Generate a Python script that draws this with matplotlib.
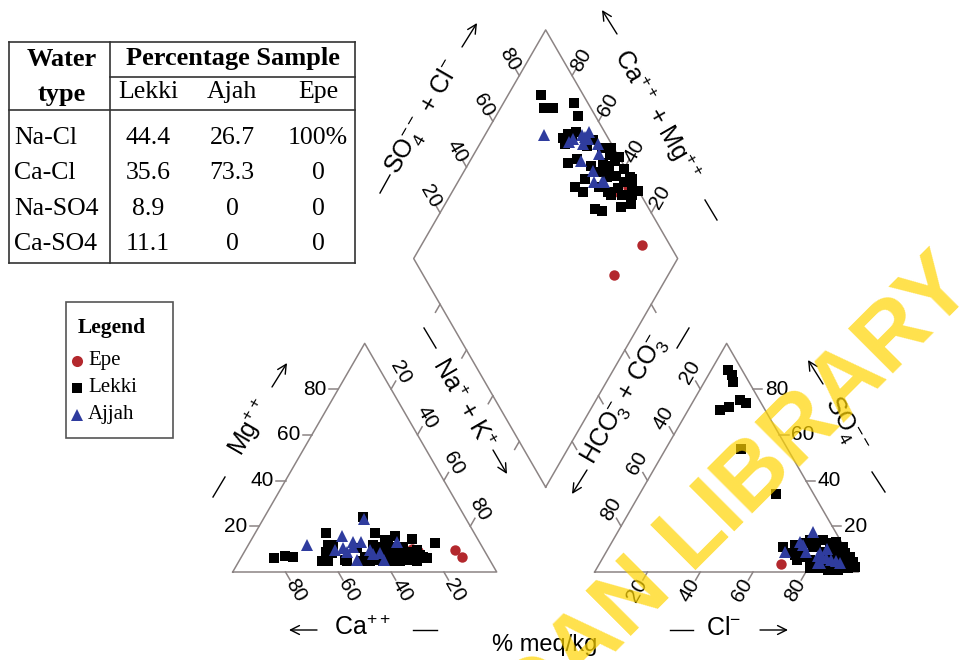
import matplotlib

matplotlib.use("Agg")
import matplotlib.pyplot as plt
import numpy as np
from matplotlib.lines import Line2D
from matplotlib.patches import Rectangle

plt.rcParams["font.family"] = ["Liberation Sans", "DejaVu Sans"]
plt.rcParams["mathtext.fontset"] = "custom"
plt.rcParams["mathtext.rm"] = "Liberation Sans"
plt.rcParams["mathtext.it"] = "Liberation Sans:italic"
plt.rcParams["mathtext.bf"] = "Liberation Sans:bold"

# ---- sample data (% meq) ----
lekki_ca = [81.4, 76.7, 73.8, 56.2, 57.9, 60.1, 63.9, 56.0, 58.4, 61.4, 38.4, 54.8, 54.4, 47.8, 37.6,
            46.5, 48.2, 40.7, 45.6, 41.4, 35.3, 38.0, 42.8, 35.0, 30.7, 40.5, 38.3, 33.7, 35.0, 33.8,
            36.7, 29.8, 33.2, 25.0, 34.4, 29.1, 31.5, 28.5, 25.5, 28.6, 25.4, 27.9, 24.4, 17.0, 23.5]
lekki_mg = [6.0, 7.0, 6.4, 16.9, 11.8, 8.8, 4.8, 11.8, 8.2, 4.8, 24.2, 5.3, 4.8, 10.4, 16.9,
            6.7, 4.8, 12.0, 4.8, 8.2, 14.0, 11.1, 5.3, 12.0, 15.7, 4.8, 6.7, 11.1, 9.6, 8.2,
            4.8, 11.1, 6.7, 14.3, 4.8, 8.9, 5.3, 7.4, 9.6, 6.0, 7.4, 4.8, 6.7, 12.8, 6.0]
lekki_cl = [78.8, 75.5, 82.0, 8.8, 12.0, 79.5, 51.8, 28.4, 73.9, 86.0, 74.0, 73.1, 77.6, 85.6, 65.8,
            14.9, 82.7, 80.6, 70.4, 90.6, 90.4, 87.9, 93.4, 17.3, 10.8, 84.4, 88.0, 82.0, 97.5, 72.0,
            6.4, 77.2, 96.3, 69.9, 74.4, 91.8, 90.5, 88.5, 87.6, 95.8, 84.4, 85.0, 95.2, 93.2, 20.6]
lekki_so4 = [5.3, 6.7, 3.8, 86.1, 70.9, 14.0, 34.1, 53.8, 12.6, 3.0, 5.3, 10.4, 12.6, 8.2, 11.1,
             72.3, 12.6, 1.6, 8.2, 8.2, 2.3, 0.9, 3.8, 75.2, 83.2, 1.6, 9.6, 8.9, 2.3, 7.5,
             88.3, 11.1, 3.1, 11.8, 14.0, 0.9, 6.0, 11.1, 5.3, 4.2, 5.3, 13.2, 1.6, 6.7, 73.8]

ajah_ca = [65.8, 50.9, 56.5, 52.9, 38.8, 52.4, 47.7, 49.0, 45.0, 50.1, 43.2, 43.0, 40.0, 40.1, 31.3]
ajah_mg = [11.8, 15.7, 9.5, 10.4, 23.0, 8.9, 13.2, 11.0, 13.0, 5.3, 9.6, 8.0, 8.4, 5.3, 13.2]
ajah_cl = [67.5, 71.0, 82.5, 84.8, 73.9, 89.0, 81.1, 87.1, 75.7, 90.9, 83.0, 83.3, 73.0, 81.0, 83.0]
ajah_so4 = [8.9, 13.3, 4.0, 6.0, 17.6, 5.0, 8.2, 5.2, 8.9, 3.8, 10.0, 3.8, 12.0, 7.0, 6.0]

epe_ca = [27.0, 25.5, 11.0, 10.0]
epe_mg = [10.0, 9.0, 9.5, 6.5]
epe_cl = [88.0, 90.9, 69.0, 86.0]
epe_so4 = [4.0, 6.0, 3.5, 3.5]

# ---- table ----
water_types = ["Na-Cl", "Ca-Cl", "Na-SO4", "Ca-SO4"]
table_sites = ["Lekki", "Ajah", "Epe"]
lekki_pct = ["44.4", "35.6", "8.9", "11.1"]
ajah_pct = ["26.7", "73.3", "0", "0"]
epe_pct = ["100%", "0", "0", "0"]

axis_ticks = [20, 40, 60, 80]

W, H = 976, 660
X0, Y0, S = 232.7, 572.0, 264.0
GAP = 0.371
h = np.sqrt(3) / 2
FRAME = "#8c8484"
RED, BLACK, BLUE = "#b3282d", "black", "#2f3c9e"


def px(x, y):
    return (x - X0) / S, (Y0 - y) / S


def fxy(x, y):
    return x / W, 1 - y / H


def cation_xy(ca, mg):
    ca, mg = np.asarray(ca) / 100, np.asarray(mg) / 100
    na = 1 - ca - mg
    return na + 0.5 * mg, h * mg


def anion_xy(cl, so4):
    cl, so4 = np.asarray(cl) / 100, np.asarray(so4) / 100
    return 1 + GAP + cl + 0.5 * so4, h * so4


BX, BY = 1 + GAP / 2, GAP * h


def diamond_xy(ca, mg, cl, so4):
    a = (np.asarray(cl) + np.asarray(so4)) / 100
    c = (np.asarray(ca) + np.asarray(mg)) / 100
    return BX + 0.5 * (a - c), BY + h * (a + c)


fig = plt.figure(figsize=(W / 100, H / 100), dpi=100)
ax = fig.add_axes([0, 0, 1, 1])
ax.set_xlim(-X0 / S, (W - X0) / S)
ax.set_ylim(-(H - Y0) / S, Y0 / S)
ax.axis("off")

# frames
frames = [
    [(0, 0), (1, 0), (0.5, h), (0, 0)],
    [(1 + GAP, 0), (2 + GAP, 0), (1.5 + GAP, h), (1 + GAP, 0)],
    [(BX, BY), (BX + 0.5, BY + h), (BX, BY + 2 * h), (BX - 0.5, BY + h), (BX, BY)],
]
for fr in frames:
    xs, ys = zip(*fr)
    ax.plot(xs, ys, color=FRAME, lw=1.1, zorder=1)

TL = 0.035
num_kw = dict(fontsize=15, ha="center", va="center", rotation_mode="anchor")


def tick(p, d, label=None, off=0.07, rot=0, **kw):
    d = np.asarray(d, float)
    d = d / np.hypot(*d)
    ax.plot([p[0], p[0] + TL * d[0]], [p[1], p[1] + TL * d[1]], color=FRAME, lw=1.1, zorder=1)
    if label is not None:
        opts = dict(num_kw)
        opts.update(kw)
        ax.text(p[0] + off * d[0], p[1] + off * d[1], label, rotation=rot, **opts)


for t in axis_ticks:
    v = t / 100
    lab = str(t)
    # cation
    tick((v / 2, v * h), (-1, 0), lab, off=0.045, ha="right")
    tick((0.5 + 0.5 * v, h * (1 - v)), (0.5, h), lab, off=0.075, rot=-60)
    tick((1 - v, 0), (0.5, -h), lab, off=0.08, rot=-60)
    # anion
    tick((2 + GAP - 0.5 * v, h * v), (1, 0), lab, off=0.045, ha="left")
    tick((1.5 + GAP - 0.5 * v, h * (1 - v)), (-0.5, h), lab, off=0.075, rot=60)
    tick((1 + GAP + v, 0), (-0.5, -h), lab, off=0.08, rot=60)
    # diamond
    tick((BX - 0.5 + 0.5 * v, BY + h + h * v), (-0.5, h), lab, off=0.07, rot=-60)
    tick((BX + 0.5 - 0.5 * v, BY + h + h * v), (0.5, h), lab, off=0.07, rot=60)
    tick((BX - 0.5 * v, BY + h * v), (-0.5, -h))
    tick((BX + 0.5 * v, BY + h * v), (0.5, -h))

# axis titles, arrows, dashes
title_kw = dict(fontsize=18, ha="center", va="center", rotation_mode="anchor")
titles = [
    ("Mg$^{++}$", (250, 428), 60),
    ("Na$^{+}$ + K$^{+}$", (463, 404), -60),
    ("Ca$^{++}$", (362, 628), 0),
    ("Cl$^{-}$", (724, 628), 0),
    ("SO$_4^{--}$", (845, 425), -60),
    ("HCO$_3^{-}$ + CO$_3^{-}$", (625, 400), 60),
    ("SO$_4^{--}$ + Cl$^{-}$", (424, 117), 60),
    ("Ca$^{++}$ + Mg$^{++}$", (656, 115), -60),
]
for txt, (x, y), rot in titles:
    ax.text(*px(x, y), txt, rotation=rot, **title_kw)
ax.text(*px(545, 645), "% meq/kg", fontsize=17, ha="center", va="center")

arrows = [
    ((272, 387), (287, 363)), ((493, 450), (507, 474)), ((317, 630), (289, 630)),
    ((760, 630), (788, 630)), ((823, 384), (808, 360)), ((587, 470), (572, 494)),
    ((462, 47), (477, 23)), ((617, 34), (602, 10)),
]
for s, e in arrows:
    ax.annotate("", xy=px(*e), xytext=px(*s),
                arrowprops=dict(arrowstyle="->", lw=1.0, color="black", mutation_scale=16,
                                shrinkA=0, shrinkB=0))
dashes = [
    ((213, 497), (225, 477)), ((424, 328), (436, 348)), ((413, 630), (437, 630)),
    ((670, 630), (693, 630)), ((872, 472), (885, 492)), ((677, 348), (689, 328)),
    ((380, 193), (390, 175)), ((705, 200), (717, 220)),
]
for s, e in dashes:
    (x1, y1), (x2, y2) = px(*s), px(*e)
    ax.plot([x1, x2], [y1, y2], color="black", lw=1.0)

# samples
groups = [
    (epe_ca, epe_mg, epe_cl, epe_so4, dict(marker="o", color=RED, ms=7.5)),
    (lekki_ca, lekki_mg, lekki_cl, lekki_so4, dict(marker="s", color=BLACK, ms=6.8)),
    (ajah_ca, ajah_mg, ajah_cl, ajah_so4, dict(marker="^", color=BLUE, ms=8.5)),
]
for ca, mg, cl, so4, style in groups:
    for x, y in (cation_xy(ca, mg), anion_xy(cl, so4), diamond_xy(ca, mg, cl, so4)):
        ax.plot(x, y, ls="none", zorder=3, markeredgewidth=0, **style)

# table
serif = ["Liberation Serif", "DejaVu Serif"]
tline = dict(color="#333333", lw=1.2, transform=fig.transFigure)
for (x1, y1), (x2, y2) in [((9, 42), (355, 42)), ((9, 263), (355, 263)), ((9, 42), (9, 263)),
                           ((355, 42), (355, 263)), ((110, 42), (110, 263)),
                           ((110, 77), (355, 77)), ((9, 110), (355, 110))]:
    a, b = fxy(x1, y1), fxy(x2, y2)
    fig.add_artist(Line2D([a[0], b[0]], [a[1], b[1]], **tline))
fig.text(*fxy(62, 60), "Water", family=serif, weight="bold", fontsize=19, ha="center", va="center")
fig.text(*fxy(62, 94), "type", family=serif, weight="bold", fontsize=19, ha="center", va="center")
fig.text(*fxy(233, 58), "Percentage Sample", family=serif, weight="bold", fontsize=19,
         ha="center", va="center")
col_x = [148, 232, 318]
for cx, name in zip(col_x, table_sites):
    fig.text(*fxy(cx, 92), name, family=serif, fontsize=18.5, ha="center", va="center")
row_y = [138, 173, 209, 244]
for ry, wt, l, a_, e in zip(row_y, water_types, lekki_pct, ajah_pct, epe_pct):
    fig.text(*fxy(14, ry), wt, family=serif, fontsize=18.5, ha="left", va="center")
    for cx, val in zip(col_x, (l, a_, e)):
        fig.text(*fxy(cx, ry), val, family=serif, fontsize=18.5, ha="center", va="center")

# legend
lx0, ly0 = fxy(66, 438)
lx1, ly1 = fxy(173, 302)
fig.add_artist(Rectangle((lx0, ly0), lx1 - lx0, ly1 - ly0, transform=fig.transFigure,
                         fill=False, edgecolor="#555555", lw=1.2))
fig.text(*fxy(112, 328), "Legend", family=serif, weight="bold", fontsize=15.5, ha="center", va="center")
legend_items = [("Epe", dict(marker="o", color=RED, ms=8)),
                ("Lekki", dict(marker="s", color=BLACK, ms=6.5)),
                ("Ajjah", dict(marker="^", color=BLUE, ms=8.5))]
for (name, style), ly in zip(legend_items, [361, 388, 415]):
    mx, my = fxy(77, ly)
    fig.add_artist(Line2D([mx], [my], transform=fig.transFigure, ls="none", markeredgewidth=0, **style))
    fig.text(*fxy(88, ly), name, family=serif, fontsize=15, ha="left", va="center")

# watermark
wm = dict(fontsize=66, weight="bold", color="#FFD400", alpha=0.7, rotation=45,
          rotation_mode="anchor", va="baseline", zorder=10)
ax.text(*px(690, 570), "LIBRARY", ha="left", **wm)
ax.text(*px(672, 588), "IBADAN", ha="right", **wm)

fig.savefig("out.png", dpi=100)
